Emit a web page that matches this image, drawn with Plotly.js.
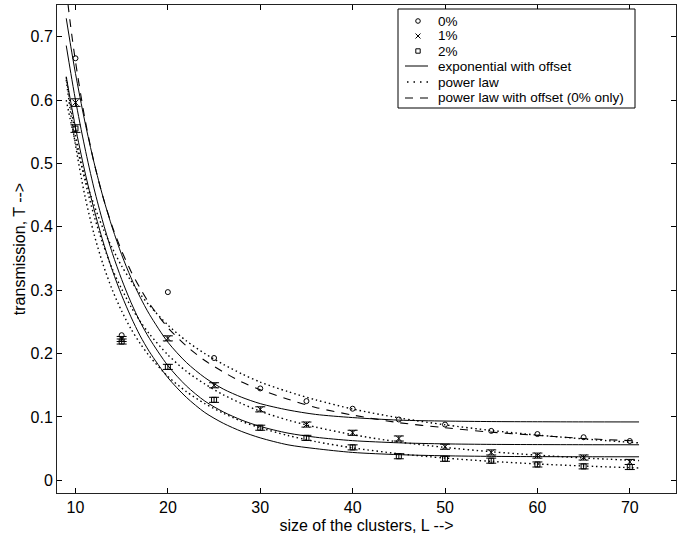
<!DOCTYPE html>
<html>
<head>
<meta charset="utf-8">
<script src="https://cdn.plot.ly/plotly-3.0.1.min.js"></script>
<style>html,body{margin:0;padding:0;background:#fff;}#chart{width:682px;height:539px;}</style>
</head>
<body>
<div id="chart"></div>
<script>
// cluster sizes of the measured points
const L = [10, 15, 20, 25, 30, 35, 40, 45, 50, 55, 60, 65, 70];
// transmission, 0% / 1% / 2%
const T0 = [0.666, 0.229, 0.297, 0.193, 0.145, 0.125, 0.113, 0.096, 0.088, 0.078, 0.073, 0.068, 0.062];
const T1 = [0.596, 0.223, 0.224, 0.150, 0.112, 0.088, 0.075, 0.066, 0.053, 0.044, 0.039, 0.036, 0.029];
const T2 = [0.555, 0.219, 0.179, 0.127, 0.083, 0.067, 0.052, 0.038, 0.034, 0.031, 0.025, 0.022, 0.021];
// error bars (1% and 2%)
const E1 = [0.006, 0.004, 0.004, 0.004, 0.004, 0.004, 0.004, 0.004, 0.004, 0.004, 0.004, 0.004, 0.004];
const E2 = [0.006, 0.004, 0.004, 0.004, 0.004, 0.004, 0.004, 0.004, 0.004, 0.004, 0.004, 0.004, 0.004];

// fit curves, values at these L
const Lfit = [9, 9.5, 10, 11, 12, 13, 14, 15, 16, 17, 18, 20, 22, 24, 26, 28, 30, 33, 36, 40, 45, 50, 55, 60, 65, 71];
const exp0 = [0.729, 0.684, 0.642, 0.567, 0.502, 0.446, 0.398, 0.356, 0.320, 0.289, 0.262, 0.218, 0.186, 0.162, 0.144, 0.131, 0.121, 0.111, 0.104, 0.099, 0.095, 0.0935, 0.0927, 0.0924, 0.0922, 0.0921];
const exp1 = [0.686, 0.642, 0.600, 0.526, 0.461, 0.406, 0.358, 0.317, 0.281, 0.250, 0.224, 0.181, 0.149, 0.125, 0.108, 0.095, 0.085, 0.0745, 0.068, 0.0626, 0.0592, 0.0575, 0.0567, 0.0564, 0.0562, 0.0561];
const exp2 = [0.637, 0.596, 0.557, 0.488, 0.428, 0.376, 0.331, 0.292, 0.258, 0.228, 0.203, 0.162, 0.131, 0.107, 0.090, 0.077, 0.067, 0.056, 0.050, 0.044, 0.0405, 0.0387, 0.0378, 0.0374, 0.0372, 0.0371];
const pow0 = [0.600, 0.565, 0.533, 0.479, 0.435, 0.397, 0.366, 0.338, 0.315, 0.294, 0.276, 0.245, 0.220, 0.200, 0.183, 0.168, 0.155, 0.140, 0.127, 0.1125, 0.0986, 0.0876, 0.0787, 0.0714, 0.0653, 0.0591];
const pow1 = [0.636, 0.588, 0.545, 0.475, 0.418, 0.372, 0.333, 0.302, 0.274, 0.251, 0.231, 0.198, 0.172, 0.152, 0.135, 0.121, 0.109, 0.095, 0.084, 0.072, 0.0605, 0.0519, 0.0451, 0.0397, 0.0353, 0.0311];
const pow2 = [0.632, 0.577, 0.529, 0.450, 0.389, 0.340, 0.300, 0.267, 0.239, 0.216, 0.196, 0.164, 0.140, 0.121, 0.106, 0.093, 0.083, 0.0707, 0.0611, 0.0512, 0.042, 0.0351, 0.0299, 0.0258, 0.0226, 0.0195];
const powOff0 = [0.775, 0.714, 0.661, 0.572, 0.502, 0.446, 0.400, 0.362, 0.330, 0.303, 0.279, 0.241, 0.212, 0.189, 0.171, 0.155, 0.143, 0.128, 0.115, 0.103, 0.091, 0.083, 0.076, 0.071, 0.066, 0.062];

const xTicks = [10, 20, 30, 40, 50, 60, 70];
const yTicks = [0, 0.1, 0.2, 0.3, 0.4, 0.5, 0.6, 0.7];
const yTickText = ['0', '0.1', '0.2', '0.3', '0.4', '0.5', '0.6', '0.7'];
const legendLabels = ['0%', '1%', '2%', 'exponential with offset', 'power law', 'power law with offset (0% only)'];

const FONT = 'Liberation Sans, Arial, Helvetica, sans-serif';
const DOT = '1.5px,3px';
const DASH = '8px,7px';
const errStyle = (arr) => ({type: 'data', array: arr, visible: true, color: '#000', thickness: 1, width: 5});

function fitTrace(y, dash) {
  return {x: Lfit, y: y, mode: 'lines', showlegend: false,
    line: {color: '#000', width: dash === 'solid' ? 1 : (dash === DOT ? 1.4 : 1.1), dash: dash, shape: 'spline', smoothing: 0.8},
    hoverinfo: 'skip'};
}

const traces = [
  fitTrace(exp0, 'solid'), fitTrace(exp1, 'solid'), fitTrace(exp2, 'solid'),
  fitTrace(pow0, DOT), fitTrace(pow1, DOT), fitTrace(pow2, DOT),
  fitTrace(powOff0, DASH),
  {x: L, y: T0, mode: 'markers', showlegend: false,
   marker: {symbol: 'circle-open', size: 5, color: '#000', line: {width: 1, color: '#000'}}},
  {x: L, y: T1, mode: 'markers', showlegend: false, error_y: errStyle(E1),
   marker: {symbol: 'x-thin-open', size: 6, color: '#000', line: {width: 1, color: '#000'}}},
  {x: L, y: T2, mode: 'markers', showlegend: false, error_y: errStyle(E2),
   marker: {symbol: 'square-open', size: 5, color: '#000', line: {width: 1, color: '#000'}}}
];

// ---- hand-made legend box (paper coordinates) ----
const plotL = 57, plotR = 676, plotT = 5, plotB = 493;
const px = (v) => (v - plotL) / (plotR - plotL);
const py = (v) => (plotB - v) / (plotB - plotT);
const rowY = [21, 36, 51, 66, 82, 98];
const symX = 418, lineX0 = 405, lineX1 = 428, textX = 436;
const pix = {xref: 'paper', yref: 'paper', xsizemode: 'pixel', ysizemode: 'pixel'};

const shapes = [
  {type: 'rect', xref: 'paper', yref: 'paper', x0: px(398), x1: px(635), y0: py(108), y1: py(9),
   fillcolor: '#fff', line: {color: '#000', width: 1}},
  Object.assign({type: 'circle', xanchor: px(symX), yanchor: py(rowY[0]), x0: -2.3, x1: 2.3, y0: -2.3, y1: 2.3,
   line: {color: '#000', width: 1}}, pix),
  Object.assign({type: 'line', xanchor: px(symX), yanchor: py(rowY[1]), x0: -2.5, x1: 2.5, y0: -2.5, y1: 2.5,
   line: {color: '#000', width: 1}}, pix),
  Object.assign({type: 'line', xanchor: px(symX), yanchor: py(rowY[1]), x0: -2.5, x1: 2.5, y0: 2.5, y1: -2.5,
   line: {color: '#000', width: 1}}, pix),
  Object.assign({type: 'rect', xanchor: px(symX), yanchor: py(rowY[2]), x0: -2.2, x1: 2.2, y0: -2.2, y1: 2.2,
   line: {color: '#000', width: 1}}, pix),
  {type: 'line', xref: 'paper', yref: 'paper', x0: px(lineX0), x1: px(lineX1), y0: py(rowY[3]), y1: py(rowY[3]),
   line: {color: '#000', width: 1}},
  {type: 'line', xref: 'paper', yref: 'paper', x0: px(lineX0 + 2), x1: px(lineX1), y0: py(rowY[4]), y1: py(rowY[4]),
   line: {color: '#000', width: 1.4, dash: '1.5px,5px'}},
  {type: 'line', xref: 'paper', yref: 'paper', x0: px(lineX0), x1: px(lineX1), y0: py(rowY[5]), y1: py(rowY[5]),
   line: {color: '#000', width: 1.1, dash: DASH}}
];

const annotations = legendLabels.map((t, i) => ({
  text: t, xref: 'paper', yref: 'paper', x: px(textX), y: py(rowY[i]), xanchor: 'left', yanchor: 'middle',
  showarrow: false, font: {family: FONT, size: 13.5, color: '#000'}
}));

const layout = {
  width: 682, height: 539,
  margin: {l: plotL, r: 682 - plotR, t: plotT, b: 539 - plotB, pad: 0},
  paper_bgcolor: '#fff', plot_bgcolor: '#fff',
  font: {family: FONT, color: '#000', size: 16},
  showlegend: false,
  shapes: shapes,
  annotations: annotations,
  xaxis: {
    range: [8, 75], tickvals: xTicks, ticktext: xTicks.map(String),
    ticks: 'inside', ticklen: 5, tickcolor: '#000', tickwidth: 1,
    showline: true, linecolor: '#222', linewidth: 1, mirror: 'ticks',
    showgrid: false, zeroline: false,
    tickfont: {family: FONT, size: 16, color: '#000'},
    title: {text: 'size of the clusters, L -->', font: {family: FONT, size: 16, color: '#000'}, standoff: 4}
  },
  yaxis: {
    range: [-0.02, 0.75], tickvals: yTicks, ticktext: yTickText,
    ticks: 'inside', ticklen: 5, tickcolor: '#000', tickwidth: 1,
    showline: true, linecolor: '#222', linewidth: 1, mirror: 'ticks',
    showgrid: false, zeroline: false,
    tickfont: {family: FONT, size: 16, color: '#000'},
    title: {text: 'transmission, T -->', font: {family: FONT, size: 16, color: '#000'}, standoff: 0}
  }
};

Plotly.newPlot('chart', traces, layout, {staticPlot: true, displayModeBar: false});
</script>
</body>
</html>
